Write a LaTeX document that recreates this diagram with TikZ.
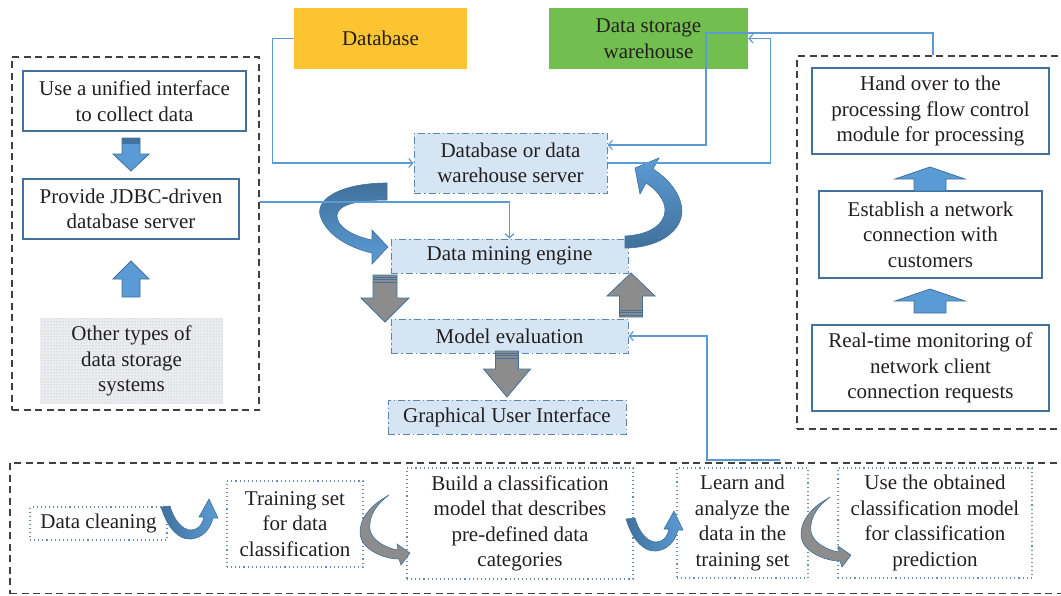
\documentclass[tikz,border=0pt]{standalone}
\usepackage{fontspec}
\setmainfont{Liberation Serif}
\usetikzlibrary{arrows.meta,patterns}

\definecolor{ink}{HTML}{231F20}
\definecolor{steel}{HTML}{41719C}
\definecolor{sky}{HTML}{5B9BD5}
\definecolor{paleblue}{HTML}{D5E5F3}
\definecolor{amber}{HTML}{FDC432}
\definecolor{leaf}{HTML}{72BF4F}
\definecolor{panelgray}{HTML}{404040}
\definecolor{slate}{HTML}{8C8C8C}
\definecolor{dotgray}{HTML}{EDEDED}
\definecolor{dotblue}{HTML}{8FB4DC}

\tikzset{
  txtbase/.style={inner sep=0pt, align=center, text=ink, font=\fontsize{21}{25.5}\selectfont},
  panel/.style={draw=panelgray, line width=1.2pt, dash pattern=on 7pt off 4.5pt},
  cbox/.style={txtbase, fill=paleblue, draw=steel!85, line width=1pt,
               dash pattern=on 7pt off 3pt on 1.5pt off 3pt},
  sbox/.style={txtbase, fill=white, draw=steel, line width=1.2pt},
  dbox/.style={txtbase, draw=steel!80, line width=1.1pt, dash pattern=on 1.1pt off 3pt},
  conn/.style={draw=sky, line width=1.2pt, -{Straight Barb[length=4pt,width=9pt]}},
  blk/.style={fill=sky, draw=steel, line width=0.8pt},
  gblk/.style={fill=slate, draw=steel, line width=0.8pt},
  curvearr/.style={draw=steel, line width=0.6pt},
  stripe/.style={draw=steel, line width=0.6pt},
}

% straight block arrow: style, x, base y, head-base y, tip y, shaft half width, head half width
\newcommand\vblock[7]{%
  \path[#1] (#2-#6,#3) -- (#2-#6,#4) -- (#2-#7,#4) -- (#2,#5) -- (#2+#7,#4)
    -- (#2+#6,#4) -- (#2+#6,#3) -- cycle;}

\begin{document}
\begin{tikzpicture}[x=1pt,y=-1pt]
\useasboundingbox (0,0) rectangle (1061,595);

% ---------- dashed panels ----------
\node[panel, minimum width=247pt, minimum height=353pt, inner sep=0pt] (lp) at (135.5,233.5) {};
\node[panel, minimum width=266pt, minimum height=373pt, inner sep=0pt] (rp) at (930,242.5) {};
\node[panel, minimum width=1056pt, minimum height=130.5pt, inner sep=0pt] (bp) at (538,528.25) {};

% ---------- top stores ----------
\node[txtbase, fill=amber, minimum width=173pt, minimum height=61pt] (db) at (380.5,38.5) {Database};
\node[txtbase, fill=leaf, minimum width=199pt, minimum height=61pt] (dsw) at (648.5,38.5) {Data storage\\warehouse};

% ---------- central column ----------
\node[cbox, minimum width=193pt, minimum height=60pt] (srv) at (510.5,163) {Database or data\\warehouse server};
\node[cbox, minimum width=237pt, minimum height=34pt] (mine) at (509.5,256) {Data mining engine};
\node[cbox, minimum width=237pt, minimum height=34pt] (meval) at (509.5,336) {Model evaluation};
\node[cbox, minimum width=238pt, minimum height=34pt] (gui) at (507,417) {Graphical User Interface};

% ---------- left panel ----------
\node[sbox, minimum width=223pt, minimum height=60pt] (uni) at (134.5,101) {Use a unified interface\\to collect data};
\node[sbox, minimum width=216pt, minimum height=60pt] (jdbc) at (131,209) {Provide JDBC-driven\\database server};
\node[txtbase, minimum width=183pt, minimum height=86pt,
      preaction={fill=dotgray}, pattern=dots, pattern color=dotblue] (other) at (131.5,361)
      {Other types of\\data storage\\systems};

\vblock{blk}{131}{138}{154}{171}{9}{18}
\fill[steel] (122,138.4) rectangle (140,144);
\vblock{blk}{131}{297}{279}{261}{9}{18}

% ---------- right panel ----------
\node[sbox, minimum width=237pt, minimum height=86pt] (hand) at (930.5,111)
  {Hand over to the\\processing flow control\\module for processing};
\node[sbox, minimum width=223pt, minimum height=87pt] (est) at (930.5,234.5)
  {Establish a network\\connection with\\customers};
\node[sbox, minimum width=237pt, minimum height=86pt] (rt) at (930.5,368)
  {Real-time monitoring of\\network client\\connection requests};

\vblock{blk}{930}{191}{179}{167}{16}{35}
\vblock{blk}{930}{313}{301}{289}{16}{35}

% ---------- bottom panel ----------
\node[dbox, minimum width=137pt, minimum height=33pt] (clean) at (98.5,523.5) {Data cleaning};
\node[dbox, minimum width=136pt, minimum height=86pt] (train) at (295,524)
  {Training set\\for data\\classification};
\node[dbox, minimum width=226pt, minimum height=111pt] (build) at (520,523.5)
  {Build a classification\\model that describes\\pre-defined data\\categories};
\node[dbox, minimum width=131pt, minimum height=110pt] (learn) at (742.5,523)
  {Learn and\\analyze the\\data in the\\training set};
\node[dbox, minimum width=194pt, minimum height=110pt] (use) at (935,523)
  {Use the obtained\\classification model\\for classification\\prediction};

% small U-shaped blue arrows
\foreach \dx/\dy in {0/0, 465/12}{
\begin{scope}[shift={(\dx,\dy)}]
  \path[curvearr, left color=steel, right color=sky]
    (161,507) .. controls (168,530) and (180,540) .. (191,539)
              .. controls (202,538) and (210,530) .. (213,518)
    -- (218,518) -- (209,499) -- (199,517) -- (204,517)
    .. controls (202,526) and (197,530) .. (191,530)
    .. controls (182,530) and (174,520) .. (170,506) -- cycle;
\end{scope}}

% small C-shaped gray arrows
\foreach \dx/\dy in {0/0, 441/2}{
\begin{scope}[shift={(\dx,\dy)}]
  \path[curvearr, fill=slate]
    (381,500) .. controls (362,512) and (352,535) .. (368,548)
              .. controls (378,556) and (390,559) .. (399,559)
    -- (401,565) -- (410,553) -- (397,544) -- (398,550)
    .. controls (385,548) and (372,540) .. (370,530)
    .. controls (368,515) and (378,503) .. (389,495) -- cycle;
\end{scope}}

% ---------- large curved arrows round the mining engine ----------
\path[curvearr, top color=steel, bottom color=sky]
  (387,183) .. controls (340,183) and (313,200) .. (321,218)
            .. controls (328,236) and (350,248) .. (372,253)
  -- (372,264) -- (388,247) -- (372,230) -- (372,240)
  .. controls (352,236) and (336,226) .. (337,215)
  .. controls (338,204) and (360,200) .. (387,200) -- cycle;

\path[curvearr, top color=sky, bottom color=steel]
  (625,248) .. controls (650,248) and (675,238) .. (681,218)
            .. controls (686,198) and (668,178) .. (653,169)
  -- (659,158) -- (635,168) -- (640,194) -- (646,183)
  .. controls (660,192) and (668,205) .. (664,216)
  .. controls (660,228) and (645,235) .. (625,236) -- cycle;

% ---------- gray block arrows ----------
\vblock{gblk}{385}{275}{298}{322}{12}{24}
\draw[stripe] (373,277) -- (397,277) (373,279.5) -- (397,279.5) (373,282) -- (397,282);
\vblock{gblk}{631}{317}{296}{273}{11.5}{24}
\draw[stripe] (619.5,315) -- (642.5,315) (619.5,312.5) -- (642.5,312.5) (619.5,310) -- (642.5,310);
\vblock{gblk}{507}{351}{369}{397}{11.5}{23.5}
\draw[stripe] (495.5,353) -- (518.5,353) (495.5,355.5) -- (518.5,355.5) (495.5,358) -- (518.5,358);

% ---------- connectors ----------
\draw[conn] (db.west) -- ++(-21,0) |- (srv.west);

\coordinate (rtop) at (933,33);
\coordinate (rdrop) at (706,33);
\draw[conn] (rp.north -| rtop) -- (rtop) -- (rdrop) |- ([yshift=18pt]srv.east);

\draw[conn] (srv.east) -- ++(163,0) |- (dsw.east);

\coordinate (jd) at ([yshift=7pt]jdbc.east);
\draw[conn] (lp.east |- jd) -| (mine.north);

\coordinate (eend) at (780,460);
\coordinate (ebend) at (707,460);
\draw[conn] (eend) -- (ebend) |- (meval.east);

\end{tikzpicture}
\end{document}
